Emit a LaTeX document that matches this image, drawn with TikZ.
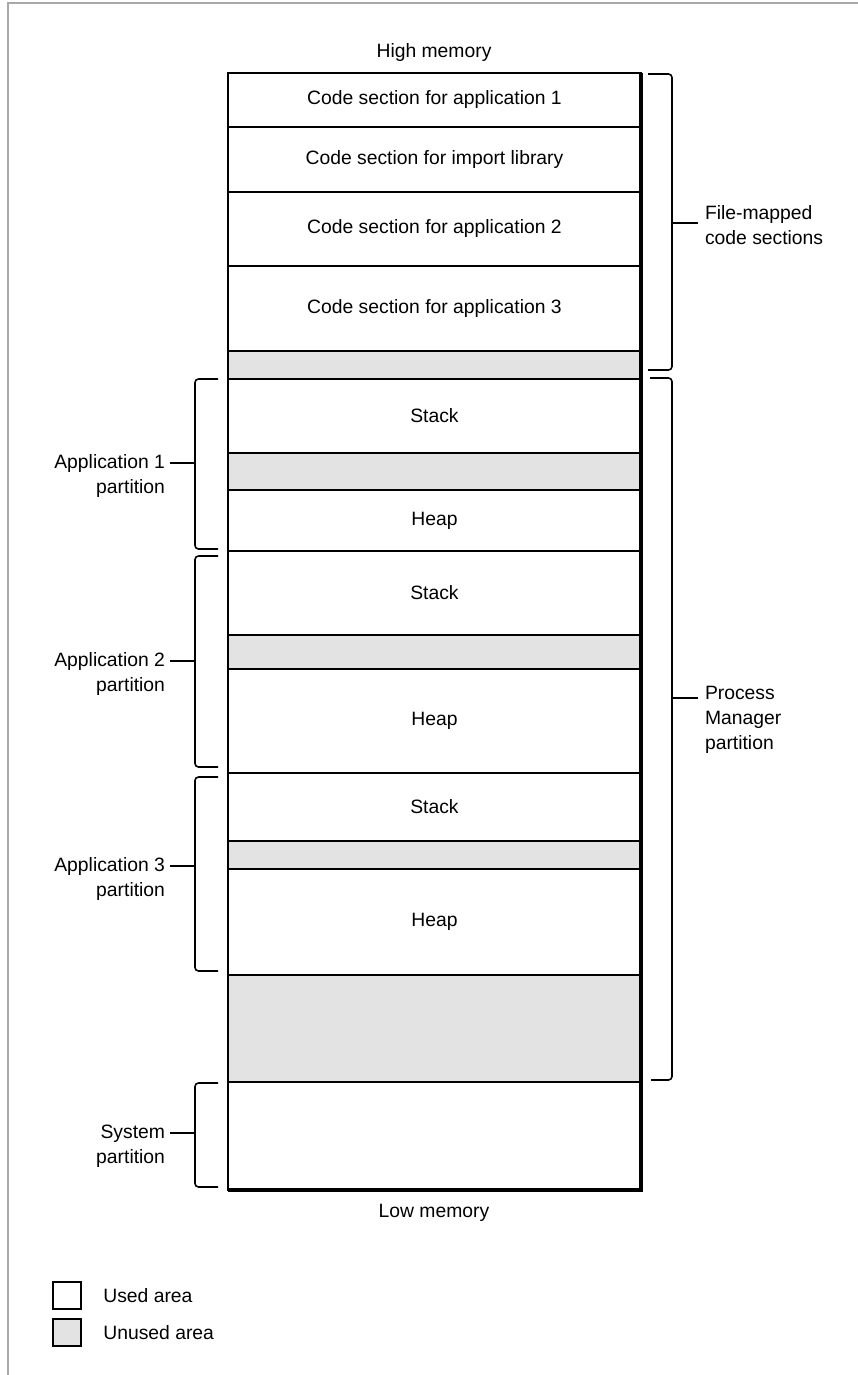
\documentclass[tikz,border=0pt]{standalone}
\usepackage{fontspec}
\setmainfont{Liberation Sans}
\usepackage{xcolor}
\definecolor{memUnused}{HTML}{E3E3E3}
\definecolor{memFrame}{HTML}{A8A8A8}
\usepackage{tikz}
\usetikzlibrary{calc,positioning}

\begin{document}
\begin{tikzpicture}[x=0.02cm,y=-0.02cm,font=\fontsize{11}{14.2}\selectfont]
  \tikzset{
    memrow/.style={
      draw=black,
      fill=white,
      line width=0.9pt,
      inner sep=0pt,
      outer sep=0pt,
      minimum width=8.26cm,
      anchor=north west
    },
    memfree/.style={memrow, fill=memUnused},
    membrace/.style={draw=black, line width=0.9pt, rounded corners=2pt},
    memtick/.style={draw=black, line width=0.9pt},
    memlabel/.style={inner sep=0pt, outer xsep=0.1cm, align=right, anchor=east},
    memnote/.style={inner sep=0pt, outer xsep=0.14cm, align=left, anchor=west},
    memkey/.style={
      draw=black,
      line width=0.9pt,
      inner sep=0pt,
      outer sep=0pt,
      minimum width=0.56cm,
      minimum height=0.54cm,
      anchor=north west
    }
  }
  \path[use as bounding box] (0,0) rectangle (858,1375);
  \draw[memFrame,line width=1pt] (8,1375) -- (8,3) -- (858,3);

  \node (himem) at (434,53) {High memory};

  \node[memrow,minimum height=1.08cm] (codeapp1) at (228,73) {Code section for application 1};
  \node[memrow,minimum height=1.30cm] (codelib) at (228,127) {Code section for import library};
  \node[memrow,minimum height=1.48cm] (codeapp2) at (228,192) {Code section for application 2};
  \node[memrow,minimum height=1.70cm] (codeapp3) at (228,266) {Code section for application 3};
  \node[memfree,minimum height=0.56cm] (freetop) at (228,351) {};
  \node[memrow,minimum height=1.48cm] (stack1) at (228,379) {Stack};
  \node[memfree,minimum height=0.74cm] (free1) at (228,453) {};
  \node[memrow,minimum height=1.22cm] (heap1) at (228,490) {Heap};
  \node[memrow,minimum height=1.68cm] (stack2) at (228,551) {Stack};
  \node[memfree,minimum height=0.68cm] (free2) at (228,635) {};
  \node[memrow,minimum height=2.08cm] (heap2) at (228,669) {Heap};
  \node[memrow,minimum height=1.36cm] (stack3) at (228,773) {Stack};
  \node[memfree,minimum height=0.56cm] (free3) at (228,841) {};
  \node[memrow,minimum height=2.12cm] (heap3) at (228,869) {Heap};
  \node[memfree,minimum height=2.14cm] (freelow) at (228,975) {};
  \node[memrow,minimum height=2.16cm] (syspart) at (228,1082) {};
  \draw[line width=2.4pt] (codeapp1.north east) -- (syspart.south east) -- (syspart.south west);

  \node (lomem) at (434,1213) {Low memory};

  % braces on the right
  \draw[membrace] (648,74) -- (672,74) -- (672,370) -- (648,370);
  \coordinate (fmtip) at (672,223);
  \node[memnote] (fmlbl) at (698,225) {File-mapped\\code sections};
  \draw[memtick] (fmtip) -- (fmtip -| fmlbl.west);

  \draw[membrace] (650,378) -- (672,378) -- (672,1080) -- (651,1080);
  \coordinate (pmtip) at (672,698);
  \node[memnote] (pmlbl) at (698,720) {Process\\Manager\\partition};
  \draw[memtick] (pmtip) -- (pmtip -| pmlbl.west);

  % braces on the left
  \draw[membrace] (218,379) -- (195,379) -- (195,549) -- (218,549);
  \coordinate (app1tip) at (195,463);
  \node[memlabel] (app1lbl) at (170,476) {Application 1\\partition};
  \draw[memtick] (app1tip) -- (app1tip -| app1lbl.east);

  \draw[membrace] (218,556) -- (195,556) -- (195,767) -- (218,767);
  \coordinate (app2tip) at (195,661);
  \node[memlabel] (app2lbl) at (170,674) {Application 2\\partition};
  \draw[memtick] (app2tip) -- (app2tip -| app2lbl.east);

  \draw[membrace] (218,777) -- (195,777) -- (195,971) -- (218,971);
  \coordinate (app3tip) at (195,866);
  \node[memlabel] (app3lbl) at (170,879) {Application 3\\partition};
  \draw[memtick] (app3tip) -- (app3tip -| app3lbl.east);

  \draw[membrace] (218,1083) -- (195,1083) -- (195,1187) -- (218,1187);
  \coordinate (systip) at (195,1133);
  \node[memlabel] (syslbl) at (170,1146) {System\\partition};
  \draw[memtick] (systip) -- (systip -| syslbl.east);

  % legend
  \node[memkey,fill=white] (keyused) at (53,1282) {};
  \node[memkey,fill=memUnused] (keyunused) at (53,1319) {};
  \node[inner sep=0pt,anchor=west,right=0.44cm of keyused] (keyusedlbl) {Used area};
  \node[inner sep=0pt,anchor=west,right=0.44cm of keyunused] (keyunusedlbl) {Unused area};
\end{tikzpicture}
\end{document}
